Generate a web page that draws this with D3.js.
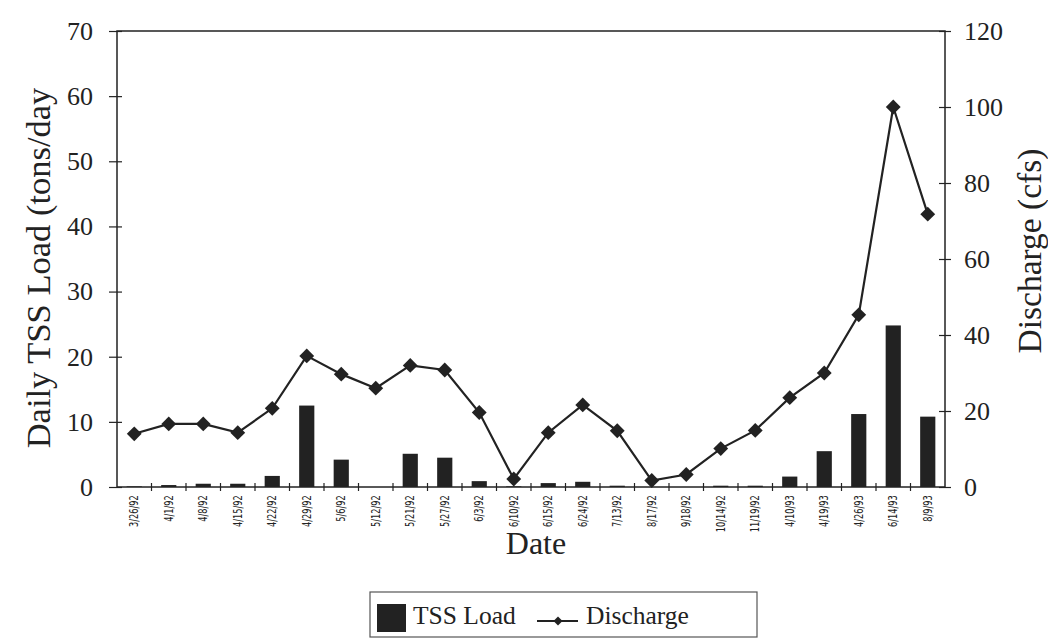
<!DOCTYPE html>
<html>
<head>
<meta charset="utf-8">
<script src="https://cdn.jsdelivr.net/npm/d3@7"></script>
<style>
  html, body { margin: 0; padding: 0; background: #fff; }
  svg { display: block; }
</style>
</head>
<body>
<svg id="chart" width="1048" height="644"></svg>
<script>
const categories = ["3/26/92","4/1/92","4/8/92","4/15/92","4/22/92","4/29/92","5/6/92","5/12/92","5/21/92","5/27/92","6/3/92","6/10/92","6/15/92","6/24/92","7/13/92","8/17/92","9/18/92","10/14/92","11/19/92","4/10/93","4/19/93","4/26/93","6/14/93","8/9/93"];
const tssLoad = [0.1,0.3,0.5,0.5,1.7,12.5,4.2,0,5.1,4.5,0.9,0.1,0.6,0.8,0.2,0,0,0.2,0.2,1.6,5.5,11.2,24.8,10.8];
const discharge = [14,16.6,16.6,14.3,20.7,34.5,29.7,26,32,30.8,19.6,2.1,14.3,21.6,14.8,1.7,3.3,10.1,14.9,23.5,30,45.3,100,71.8];
const leftTicks = [0,10,20,30,40,50,60,70];
const rightTicks = [0,20,40,60,80,100,120];

(function () {
const svg = d3.select("#chart");
const serif = "'Liberation Serif','Times New Roman',serif";
const narrow = "'Liberation Sans Narrow','DejaVu Sans Condensed',sans-serif";
const ink = "#222";

const pL = 117, pR = 945, pT = 31, pB = 487;

const x = d3.scaleBand().domain(categories).range([pL, pR]).padding(0);
const yL = d3.scaleLinear().domain([0, 70]).range([pB, pT]);
const yR = d3.scaleLinear().domain([0, 120]).range([pB, pT]);

// frame
svg.append("rect").attr("x", pL).attr("y", pT).attr("width", pR - pL).attr("height", pB - pT)
  .attr("fill", "none").attr("stroke", ink).attr("stroke-width", 1.5);

// bars
const bw = x.bandwidth() * 0.44;
svg.append("g").selectAll("rect").data(categories).join("rect")
  .attr("x", d => x(d) + (x.bandwidth() - bw) / 2)
  .attr("width", bw)
  .attr("y", (d, i) => yL(tssLoad[i]))
  .attr("height", (d, i) => pB - yL(tssLoad[i]))
  .attr("fill", ink);

// left axis
const gL = svg.append("g").attr("transform", `translate(${pL},0)`)
  .call(d3.axisLeft(yL).tickValues(leftTicks).tickSize(6).tickPadding(10));
gL.select(".domain").remove();
gL.selectAll(".tick line").attr("x2", -8).attr("x1", 5).attr("stroke", ink).attr("stroke-width", 1.2);
gL.selectAll(".tick text").attr("font-family", serif).attr("font-size", 26).attr("fill", ink).attr("x", -24);

// right axis
const gR = svg.append("g").attr("transform", `translate(${pR},0)`)
  .call(d3.axisRight(yR).tickValues(rightTicks).tickSize(6).tickPadding(10));
gR.select(".domain").remove();
gR.selectAll(".tick line").attr("x1", -6).attr("x2", 6).attr("stroke", ink).attr("stroke-width", 1.2);
gR.selectAll(".tick text").attr("font-family", serif).attr("font-size", 26).attr("fill", ink).attr("x", 19);

// bottom axis ticks at band boundaries
const bounds = categories.slice(1).map(c => x(c));
svg.append("g").selectAll("line").data(bounds).join("line")
  .attr("x1", d => d).attr("x2", d => d)
  .attr("y1", pB - 4).attr("y2", pB + 4)
  .attr("stroke", ink).attr("stroke-width", 1.2);

// bottom labels (rotated)
const gB = svg.append("g").attr("transform", `translate(0,${pB})`)
  .call(d3.axisBottom(x).tickSize(0).tickPadding(0));
gB.select(".domain").remove();
gB.selectAll(".tick text")
  .attr("font-family", narrow).attr("font-size", 12).attr("fill", ink)
  .attr("transform", "rotate(-90) scale(0.76,1)")
  .attr("text-anchor", "end")
  .attr("x", -11).attr("y", 0).attr("dy", "0.35em");

// discharge line
const line = d3.line().x((d, i) => x(categories[i]) + x.bandwidth() / 2).y(d => yR(d));
svg.append("path").datum(discharge).attr("d", line)
  .attr("fill", "none").attr("stroke", ink).attr("stroke-width", 2.2);
svg.append("g").selectAll("path").data(discharge).join("path")
  .attr("d", d3.symbol().type(d3.symbolSquare).size(110))
  .attr("transform", (d, i) => `translate(${x(categories[i]) + x.bandwidth() / 2},${yR(d)}) rotate(45)`)
  .attr("fill", ink);

// axis titles
svg.append("text").attr("transform", `translate(50,268) rotate(-90)`)
  .attr("text-anchor", "middle").attr("font-family", serif).attr("font-size", 34.5).attr("fill", ink)
  .text("Daily TSS Load (tons/day");
svg.append("text").attr("transform", `translate(1041,251) rotate(-90)`)
  .attr("text-anchor", "middle").attr("font-family", serif).attr("font-size", 33.5).attr("fill", ink)
  .text("Discharge (cfs)");
svg.append("text").attr("x", 536).attr("y", 554)
  .attr("text-anchor", "middle").attr("font-family", serif).attr("font-size", 32).attr("fill", ink)
  .text("Date");

// legend
const lg = svg.append("g");
lg.append("rect").attr("x", 370).attr("y", 592).attr("width", 387).attr("height", 45)
  .attr("fill", "#fff").attr("stroke", "#555").attr("stroke-width", 1.2);
lg.append("rect").attr("x", 377).attr("y", 604).attr("width", 29).attr("height", 28).attr("fill", ink);
lg.append("text").attr("x", 413).attr("y", 624).attr("font-family", serif).attr("font-size", 25.5).attr("fill", ink).text("TSS Load");
lg.append("line").attr("x1", 537).attr("x2", 578).attr("y1", 621).attr("y2", 621).attr("stroke", ink).attr("stroke-width", 2);
lg.append("path").attr("d", d3.symbol().type(d3.symbolSquare).size(40)).attr("transform", "translate(558,621) rotate(45)").attr("fill", ink);
lg.append("text").attr("x", 586).attr("y", 624).attr("font-family", serif).attr("font-size", 25.5).attr("fill", ink).text("Discharge");
})();
</script>
</body>
</html>
